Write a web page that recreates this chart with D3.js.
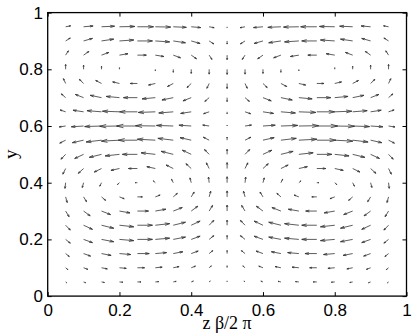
<!DOCTYPE html>
<html>
<head>
<meta charset="utf-8">
<script src="https://cdn.jsdelivr.net/npm/d3@7"></script>
<style>
  body { margin: 0; background: #fff; }
  svg { display: block; }
  .axis text { font-family: "Liberation Sans", Arial, sans-serif; font-size: 17px; fill: #000; }
  .axis line { stroke: #000; }
</style>
</head>
<body>
<div id="chart"></div>
<script>
// grid of arrow tails
var zCols = [0.05, 0.1, 0.15, 0.2, 0.25, 0.3, 0.35, 0.4, 0.45, 0.5, 0.55, 0.6, 0.65, 0.7, 0.75, 0.8, 0.85, 0.9, 0.95];
var yRows = [0.05, 0.1, 0.15, 0.2, 0.25, 0.3, 0.35, 0.4, 0.45, 0.5, 0.55, 0.6, 0.65, 0.7, 0.75, 0.8, 0.85, 0.9, 0.95];

// relative size of the z-component across the columns (read along y = 0.6)
var uShape = [0.31, 0.59, 0.81, 0.95, 1, 0.95, 0.81, 0.59, 0.31, 0, -0.31, -0.59, -0.81, -0.95, -1, -0.95, -0.81, -0.59, -0.31];
// relative size of the y-component across the columns (read along y = 0.8)
var vShape = [0.95, 0.81, 0.59, 0.31, 0, -0.31, -0.59, -0.81, -0.95, -1, -0.95, -0.81, -0.59, -0.31, 0, 0.31, 0.59, 0.81, 0.95];

// z-component for each row at z = 0.25 (in z units, as drawn)
var uRow = [0.010, 0.020, 0.033, 0.042, 0.042, 0.031, 0.014, -0.006, -0.025, -0.042, -0.053, -0.058, -0.050, -0.039, -0.020, 0.000, 0.025, 0.042, 0.045];
// y-component for each row at z = 0 (in y units, as drawn)
var vRow = [-0.0035, -0.007, -0.011, -0.014, -0.018, -0.021, -0.021, -0.021, -0.021, -0.018, -0.011, -0.0035, 0.007, 0.014, 0.018, 0.018, 0.016, 0.011, 0.0035];

var tickVals = [0, 0.2, 0.4, 0.6, 0.8, 1];
var tickLabels = ["0", "0.2", "0.4", "0.6", "0.8", "1"];

var W = 415, H = 336;
var x = d3.scaleLinear().domain([0, 1]).range([47.7, 406.5]),
    y = d3.scaleLinear().domain([0, 1]).range([296.1, 12.6]);

var svg = d3.select("#chart").append("svg")
    .attr("width", W)
    .attr("height", H);

var field = [];
yRows.forEach(function(yy, i) {
  zCols.forEach(function(zz, j) {
    field.push({ z: zz, y: yy, u: uShape[j] * uRow[i], v: vShape[j] * vRow[i] });
  });
});

// quiver arrows, head drawn like matlab (alpha = beta = 0.33, in data units)
var alpha = 0.33, beta = 0.33;
function arrowPath(d) {
  var tx = d.z + d.u, ty = d.y + d.v;
  var h1x = tx - alpha * (d.u + beta * d.v), h1y = ty - alpha * (d.v - beta * d.u);
  var h2x = tx - alpha * (d.u - beta * d.v), h2y = ty - alpha * (d.v + beta * d.u);
  return "M" + x(d.z) + "," + y(d.y) + "L" + x(tx) + "," + y(ty) +
         "M" + x(h1x) + "," + y(h1y) + "L" + x(tx) + "," + y(ty) + "L" + x(h2x) + "," + y(h2y);
}

svg.append("g")
  .selectAll("path")
  .data(field)
  .enter().append("path")
    .attr("d", arrowPath)
    .attr("fill", "none")
    .attr("stroke", "#333")
    .attr("stroke-width", 0.8);

// axes, ticks pointing inward
var fmt = function(d) { return tickLabels[tickVals.indexOf(d)]; };

svg.append("g")
    .attr("class", "axis")
    .attr("transform", "translate(0," + y(0) + ")")
    .call(d3.axisBottom(x).tickValues(tickVals).tickFormat(fmt).tickSizeInner(-4).tickSizeOuter(0).tickPadding(7.8))
    .call(function(g) { g.select(".domain").remove(); });

svg.append("g")
    .attr("class", "axis")
    .attr("transform", "translate(" + x(0) + ",0)")
    .call(d3.axisLeft(y).tickValues(tickVals).tickFormat(fmt).tickSizeInner(-4).tickSizeOuter(0).tickPadding(4.7))
    .call(function(g) { g.select(".domain").remove(); });

svg.append("g")
    .attr("class", "axis")
    .attr("transform", "translate(0," + y(1) + ")")
    .call(d3.axisTop(x).tickValues(tickVals).tickFormat("").tickSizeInner(-4).tickSizeOuter(0))
    .call(function(g) { g.select(".domain").remove(); });

svg.append("g")
    .attr("class", "axis")
    .attr("transform", "translate(" + x(1) + ",0)")
    .call(d3.axisRight(y).tickValues(tickVals).tickFormat("").tickSizeInner(-4).tickSizeOuter(0))
    .call(function(g) { g.select(".domain").remove(); });

svg.append("rect")
    .attr("x", x(0))
    .attr("y", y(1))
    .attr("width", x(1) - x(0))
    .attr("height", y(0) - y(1))
    .attr("fill", "none")
    .attr("stroke", "#000")
    .attr("stroke-width", 1.3);

// axis labels
svg.append("text")
    .attr("x", (x(0) + x(1)) / 2)
    .attr("y", 328.5)
    .attr("text-anchor", "middle")
    .style("font-family", "'Liberation Serif', 'Times New Roman', serif")
    .style("font-size", "18px")
    .text("z \u03b2/2 \u03c0");

svg.append("text")
    .attr("transform", "translate(17," + (y(0) + y(1)) / 2 + ") rotate(-90)")
    .attr("text-anchor", "middle")
    .style("font-family", "'Liberation Serif', 'Times New Roman', serif")
    .style("font-size", "19px")
    .text("y");
</script>
</body>
</html>
